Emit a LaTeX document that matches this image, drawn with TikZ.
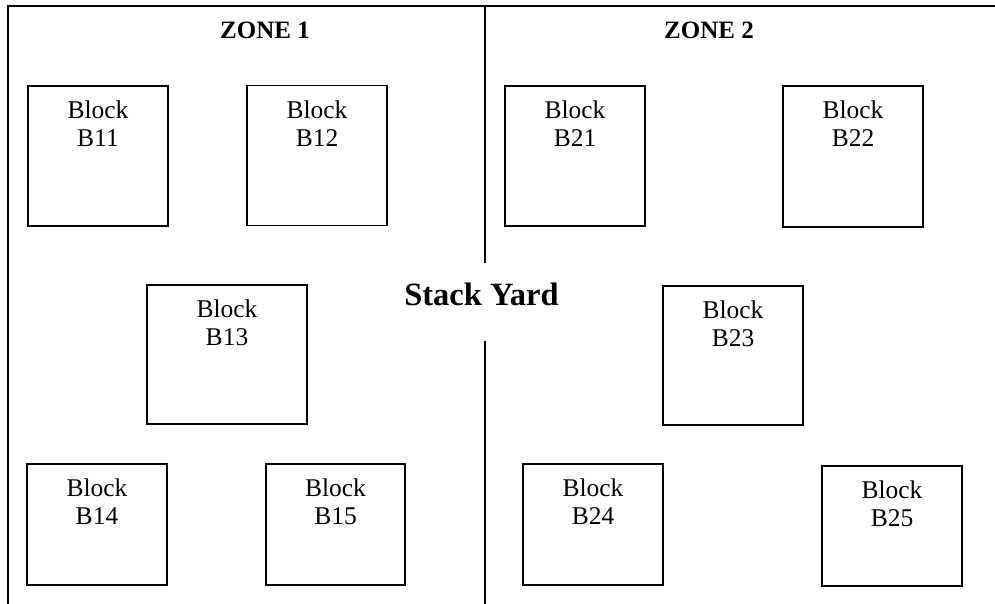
\documentclass[tikz,border=0pt]{standalone}
\usepackage{fontspec}
\setmainfont{Liberation Serif}
\begin{document}
\begin{tikzpicture}[x=1pt,y=-1pt,
  blk/.style={draw, line width=1.8pt, rectangle, inner sep=0pt},
  blktext/.style={anchor=north, inner sep=0pt, align=center, font=\fontsize{25.5}{28}\selectfont},
  zonetext/.style={anchor=base, inner sep=0pt, font=\fontsize{25}{28}\selectfont\bfseries},
  frame/.style={line width=1.8pt}]
\useasboundingbox (0,0) rectangle (995,604);
% frame
\coordinate (tl) at (8,6);
\coordinate (bl) at (8,604);
\coordinate (tr) at (995,6);
\coordinate (dtop) at (485,6);
\coordinate (dmid1) at (485,263);
\coordinate (dmid2) at (485,341);
\coordinate (dbot) at (485,604);
\draw[frame] (bl) -- (tl) -- (tr);
\draw[frame] (dtop) -- (dmid1);
\draw[frame] (dmid2) -- (dbot);
% zone titles
\node[zonetext] (z1) at (265,39) {ZONE 1};
\node[zonetext] (z2) at (709,39) {ZONE 2};
\node[anchor=base, inner sep=0pt, font=\fontsize{32.5}{34}\selectfont\bfseries] (sy) at (481.5,305) {Stack Yard};
% blocks
\foreach \n/\cx/\cy/\w/\h in {B11/98/156/140/140, B12/317/155.5/140/140, B21/575/156/140/140, B22/853/156.5/140/141,
  B13/227/354.5/160/139, B23/733/355.5/140/139,
  B14/97/524.5/140/121, B15/335.5/524.5/139/121, B24/593/524.5/140/121, B25/892/526/140/120}{
  \node[blk, minimum width=\w pt, minimum height=\h pt] (box\n) at (\cx,\cy) {};
  \node[blktext] (txt\n) at ([yshift=-16pt]box\n.north) {Block\\\n};
}
\end{tikzpicture}
\end{document}
